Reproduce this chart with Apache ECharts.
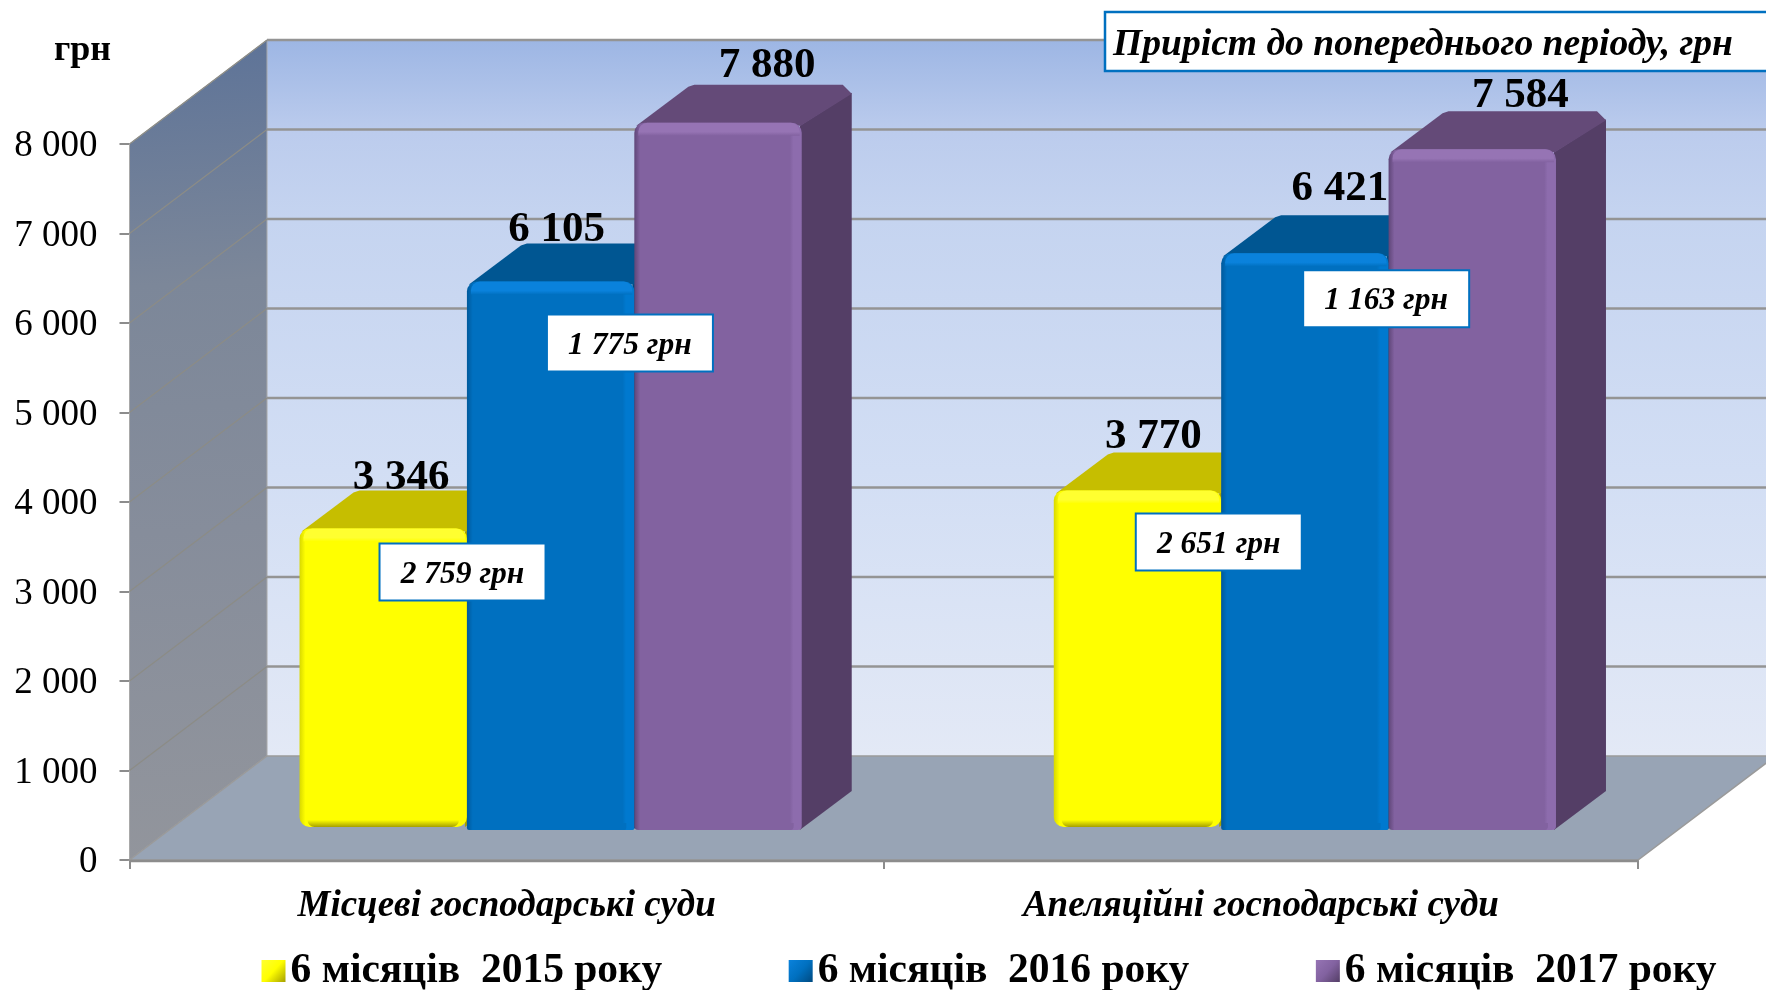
<!DOCTYPE html>
<html>
<head>
<meta charset="utf-8">
<style>html,body{margin:0;padding:0;background:#fff}#c{width:1766px;height:990px}</style>
<script src="https://cdn.jsdelivr.net/npm/echarts@6/dist/echarts.min.js"></script>
</head>
<body>
<div id="c"></div>
<script>
const categories = ['Місцеві господарські суди', 'Апеляційні господарські суди'];
const seriesNames = ['6 місяців  2015 року', '6 місяців  2016 року', '6 місяців  2017 року'];
const values2015 = [3346, 3770];
const values2016 = [6105, 6421];
const values2017 = [7880, 7584];
const growth2016 = [2759, 2651];
const growth2017 = [1775, 1163];
const yTicks = [0, 1000, 2000, 3000, 4000, 5000, 6000, 7000, 8000];
const unitLabel = 'грн';
const headerLabel = 'Приріст до попереднього періоду, грн';

const FONT = '"Liberation Serif","Times New Roman",serif';
const fmt = v => String(v).replace(/\B(?=(\d{3})+$)/g, ' ');
const Grad = (x, y, x2, y2, stops) => ({type: 'linear', x, y, x2, y2, colorStops: stops.map(s => ({offset: s[0], color: s[1]}))});

// depth of the walls, and of the bars inside them
const WALL_DX = 137.5, WALL_DY = 104;
const BAR_SHIFT_X = 44, BAR_SHIFT_Y = 32, BAR_W = 167.4, BAR_DX = 50, BAR_DY = 38;

const looks = [
  {base: '#ffff00', top: '#c6be00', side: '#a8a200', edge: '#d8d800', right: '#ffff00', high: '#ffff30', foot: '#a6a000', bottomR: 10, y0Adj: -1, labelDx: [18, 16], labelDy: [-51, -54]},
  {base: '#0070c0', top: '#005692', side: '#004a80', edge: '#00599b', right: '#0079cf', high: '#0a82dc', foot: '#0070c0', bottomR: 2, y0Adj: 2, labelDx: [6, 35], labelDy: [-52, -64]},
  {base: '#8262a0', top: '#644a78', side: '#543e66', edge: '#5f4678', right: '#8d6cad', high: '#9674b4', foot: '#8262a0', bottomR: 4, y0Adj: 2, labelDx: [49, 48], labelDy: [-57, -53]}
];

function renderWalls(params, api) {
  const c = params.coordSys;
  const x0 = c.x, x1 = c.x + c.width, yB = c.y + c.height, yT = c.y;
  const bx0 = x0 + WALL_DX, bx1 = x1 + WALL_DX;
  const edge = '#9a9a9a';
  const ch = [
    {type: 'rect', shape: {x: bx0, y: yT - WALL_DY, width: bx1 - bx0, height: c.height},
     style: {fill: Grad(0, 0, 0, 1, [[0, '#9db6e4'], [0.13, '#bccced'], [0.25, '#c5d4f0'], [0.6, '#d2def4'], [1, '#e3e9f6']])}},
    {type: 'polygon', shape: {points: [[x0, yT], [bx0, yT - WALL_DY], [bx0, yB - WALL_DY], [x0, yB]]},
     style: {fill: Grad(0, 0, 0.35, 1, [[0, '#5d7398'], [0.3, '#7c8799'], [0.6, '#868d9b'], [1, '#92959c']]), stroke: '#a8a8a8', lineWidth: 1}},
    {type: 'polygon', shape: {points: [[x0, yB], [x1, yB], [bx1, yB - WALL_DY], [bx0, yB - WALL_DY]]},
     style: {fill: '#98a4b5', stroke: edge, lineWidth: 1.5}}
  ];
  yTicks.forEach(v => {
    const y = api.coord([0, v])[1];
    if (v > 0) {
      ch.push({type: 'line', shape: {x1: x0, y1: y, x2: bx0, y2: y - WALL_DY}, style: {stroke: '#8c8c86', lineWidth: 1.2}});
      ch.push({type: 'line', shape: {x1: bx0, y1: y - WALL_DY, x2: bx1, y2: y - WALL_DY}, style: {stroke: '#949494', lineWidth: 2.5}});
    }
  });
  ch.push({type: 'line', shape: {x1: x0, y1: yB + 1, x2: x1, y2: yB + 1}, style: {stroke: '#8c8c8c', lineWidth: 2.5}});
  return {type: 'group', children: ch};
}

function renderBar(idx) {
  return function (params, api) {
    const i = api.value(0), v = api.value(1), L = looks[idx];
    const band = api.coord([i, v]);
    const x0 = band[0] + BAR_SHIFT_X + (idx - 1.5) * BAR_W;
    const x1 = x0 + BAR_W;
    const y = band[1] - BAR_SHIFT_Y;
    const y0 = api.coord([i, 0])[1] - BAR_SHIFT_Y + L.y0Adj;
    const h = y0 - y;
    const hi = L.high;
    return {type: 'group', children: [
      {type: 'polygon', shape: {points: [[x1 - 2, y + 3], [x1 + BAR_DX, y - BAR_DY + 8], [x1 + BAR_DX, y0 - BAR_DY - 1], [x1 - 2, y0]]}, style: {fill: L.side}},
      {type: 'polygon', shape: {points: [[x0 + 2, y + 3], [x0 + 54, y - BAR_DY + 2], [x0 + 60, y - BAR_DY], [x1 + 41, y - BAR_DY], [x1 + BAR_DX, y - BAR_DY + 9], [x1 - 1, y + 3]]}, style: {fill: L.top}},
      {type: 'rect', shape: {x: x0, y, width: BAR_W, height: h, r: [10, 10, L.bottomR, L.bottomR]},
       style: {fill: Grad(0, 0, 1, 0, [[0, L.edge], [0.035, L.base], [0.93, L.base], [0.95, L.right], [1, L.right]])}},
      {type: 'rect', shape: {x: x0 + 4, y, width: BAR_W - 6, height: 13, r: [9, 9, 0, 0]},
       style: {fill: Grad(0, 0, 0, 1, [[0, hi], [0.7, hi], [1, L.base]])}},
      {type: 'rect', shape: {x: x0 + 8, y: y0 - 7, width: BAR_W - 16, height: 7, r: [0, 0, L.bottomR, L.bottomR]},
       style: {fill: Grad(0, 0, 0, 1, [[0, L.base], [1, L.foot]])}}
    ]};
  };
}

function renderValueLabels(idx) {
  return function (params, api) {
    const i = api.value(0), v = api.value(1), L = looks[idx];
    const p = api.coord([i, v]);
    const cx = p[0] + BAR_SHIFT_X + (idx - 1) * BAR_W + L.labelDx[i];
    return {type: 'text', style: {text: fmt(v), x: cx, y: p[1] - BAR_SHIFT_Y + L.labelDy[i],
      font: 'bold 43px ' + FONT, fill: '#000', align: 'center', verticalAlign: 'middle'}};
  };
}

// note boxes: offset from the top-left of the bar front each note sits on
const noteOffsets = {0: [[80, 15], [82, 23]], 1: [[80, 33], [82, 17]]};
function renderNote(idx) {
  return function (params, api) {
    const i = api.value(0), ref = api.value(1), g = api.value(2);
    const p = api.coord([i, ref]);
    const x0 = p[0] + BAR_SHIFT_X + (idx - 1.5) * BAR_W + noteOffsets[idx][i][0];
    const y = p[1] - BAR_SHIFT_Y + noteOffsets[idx][i][1];
    return {type: 'group', children: [
      {type: 'rect', shape: {x: x0, y, width: 166, height: 57}, style: {fill: '#fff', stroke: '#0070c0', lineWidth: 2}},
      {type: 'text', style: {text: fmt(g) + ' ' + unitLabel, x: x0 + 83, y: y + 31, font: 'italic bold 31.5px ' + FONT, fill: '#000', align: 'center', verticalAlign: 'middle'}}
    ]};
  };
}

const barData = [values2015, values2016, values2017];
const series = [
  {type: 'custom', name: 'walls', z: 1, silent: true, clip: false, renderItem: renderWalls, data: [[0, 0]], encode: {x: 0, y: 1}}
];
barData.forEach((vals, idx) => {
  series.push({type: 'custom', name: seriesNames[idx], z: 2 + idx, clip: false, itemStyle: {color: looks[idx].base},
    renderItem: renderBar(idx), data: vals.map((v, i) => [i, v]), encode: {x: 0, y: 1}});
});
barData.forEach((vals, idx) => {
  series.push({type: 'custom', name: 'labels' + idx, z: 6, silent: true, clip: false,
    renderItem: renderValueLabels(idx), data: vals.map((v, i) => [i, v]), encode: {x: 0, y: 1}});
});
series.push({type: 'custom', name: 'notes0', z: 7, silent: true, clip: false, renderItem: renderNote(0),
  data: growth2016.map((g, i) => [i, values2015[i], g]), encode: {x: 0, y: 1}});
series.push({type: 'custom', name: 'notes1', z: 7, silent: true, clip: false, renderItem: renderNote(1),
  data: growth2017.map((g, i) => [i, values2016[i], g]), encode: {x: 0, y: 1}});

const chart = echarts.init(document.getElementById('c'), null, {renderer: 'canvas'});
chart.setOption({
  animation: false,
  backgroundColor: '#fff',
  grid: {left: 129.5, top: 144, width: 1508.5, height: 716, containLabel: false},
  xAxis: {type: 'category', data: categories, boundaryGap: true,
    axisLine: {show: false},
    axisTick: {show: true, length: 9, lineStyle: {color: '#8c8c8c', width: 2}},
    axisLabel: {interval: 0, margin: 28, color: '#000', fontFamily: FONT, fontStyle: 'italic', fontWeight: 'bold', fontSize: 37}},
  yAxis: {type: 'value', min: 0, max: 8000, interval: 1000,
    axisLine: {show: false},
    axisTick: {show: true, length: 10, lineStyle: {color: '#8c8c8c', width: 2}},
    splitLine: {show: false},
    axisLabel: {margin: 32, formatter: v => '{t|' + fmt(v) + '}',
      rich: {t: {color: '#000', fontFamily: FONT, fontSize: 37, padding: [5, 0, 0, 0]}}}},
  legend: {left: 256.5, top: 945, itemWidth: 24, itemGap: 126.5, itemHeight: 22, icon: 'rect',
    data: seriesNames.map((n, i) => ({name: n, itemStyle: {color: Grad(0, 0, 1, 1, [[0, looks[i].high], [0.5, looks[i].base], [1, i === 0 ? '#a6a000' : looks[i].side]])}})),
    textStyle: {color: '#000', fontFamily: FONT, fontWeight: 'bold', fontSize: 41.5, padding: [0, 0, 0, 0]},
    selectedMode: false},
  graphic: [
    {type: 'text', z: 100, left: 54, top: 33, style: {text: unitLabel, font: 'bold 36px ' + FONT, fill: '#000'}},
    {type: 'rect', z: 100, shape: {x: 1105, y: 12, width: 700, height: 59}, style: {fill: '#fff', stroke: '#0070c0', lineWidth: 2.5}},
    {type: 'text', z: 101, x: 1113, y: 45, style: {text: headerLabel, font: 'italic bold 37.6px ' + FONT, fill: '#000', verticalAlign: 'middle'}}
  ],
  series
});
</script>
</body>
</html>
